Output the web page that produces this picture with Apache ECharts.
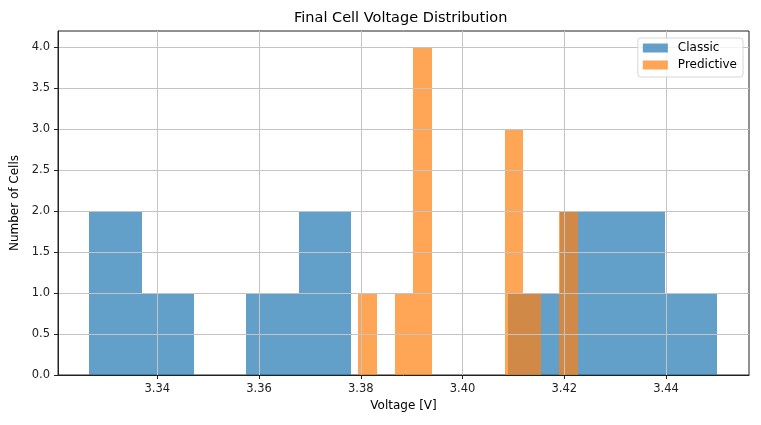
<!DOCTYPE html>
<html>
<head>
<meta charset="utf-8">
<script src="https://cdn.jsdelivr.net/npm/echarts@6/dist/echarts.min.js"></script>
<style>
html, body { margin: 0; padding: 0; background: #fff; }
#chart { width: 761px; height: 425px; }
</style>
</head>
<body>
<div id="chart"></div>
<script>
// histogram bins: left edge, bin width, 12 counts each
const classicStart = 3.32665;
const classicBinWidth = 0.010287;
const classicCounts = [2, 1, 0, 1, 2, 0, 0, 0, 1, 2, 2, 1];

const predictiveStart = 3.37955;
const predictiveBinWidth = 0.003589;
const predictiveCounts = [1, 0, 1, 4, 0, 0, 0, 0, 3, 1, 0, 2];

const xTicks = [3.34, 3.36, 3.38, 3.40, 3.42, 3.44];
const yTicks = [0, 0.5, 1, 1.5, 2, 2.5, 3, 3.5, 4];

const font = 'DejaVu Sans';

function toBins(start, width, counts) {
    return counts.map((c, i) => [start + i * width, start + (i + 1) * width, c]);
}

// snap to whole pixels so touching bins don't leave seams
function renderBar(params, api) {
    const count = api.value(2);
    if (!count) return null;
    const topLeft = api.coord([api.value(0), count]);
    const bottomRight = api.coord([api.value(1), 0]);
    const x0 = Math.round(topLeft[0]);
    const x1 = Math.round(bottomRight[0]);
    const y0 = Math.round(topLeft[1]);
    const y1 = Math.round(bottomRight[1]);
    return {
        type: 'rect',
        shape: { x: x0, y: y0, width: x1 - x0, height: y1 - y0 },
        style: api.style()
    };
}

const chart = echarts.init(document.getElementById('chart'));
chart.setOption({
    animation: false,
    textStyle: { fontFamily: font },
    title: {
        text: 'Final Cell Voltage Distribution',
        left: 294,
        top: 11,
        padding: 0,
        textStyle: { fontFamily: font, fontSize: 14.5, fontWeight: 'normal', color: '#000' }
    },
    legend: {
        z: 10,
        orient: 'vertical',
        right: 18,
        top: 38,
        padding: [4, 6, 6, 5],
        itemGap: 5,
        itemWidth: 25,
        itemHeight: 9,
        icon: 'rect',
        backgroundColor: 'rgba(255,255,255,0.8)',
        borderColor: '#d6d6d6',
        borderWidth: 1,
        borderRadius: 3,
        textStyle: { fontFamily: font, fontSize: 12, color: '#000', padding: [0, 0, 0, 5] },
        data: ['Classic', 'Predictive']
    },
    grid: {
        left: 58,
        right: 12,
        top: 31,
        bottom: 50,
        show: true,
        borderColor: '#222',
        borderWidth: 1,
        backgroundColor: 'transparent'
    },
    // axes above the bars, so grid lines show over them like the original
    xAxis: {
        z: 5,
        type: 'value',
        min: 3.3205,
        max: 3.4563,
        splitNumber: 7,
        name: 'Voltage [V]',
        nameLocation: 'middle',
        nameGap: 23,
        nameTextStyle: { fontFamily: font, fontSize: 12, color: '#000' },
        axisLine: { lineStyle: { color: '#222', width: 1 } },
        axisTick: { show: true, length: 4, lineStyle: { color: '#222' }, customValues: xTicks },
        axisLabel: {
            fontFamily: font, fontSize: 11.5, color: '#222', margin: 8,
            customValues: xTicks,
            formatter: v => v.toFixed(2)
        },
        splitLine: { show: true, lineStyle: { color: '#c4c4c4', width: 1 } }
    },
    yAxis: {
        z: 5,
        type: 'value',
        min: 0,
        max: 4.2,
        interval: 0.5,
        name: 'Number of Cells',
        nameLocation: 'middle',
        nameGap: 33,
        nameTextStyle: { fontFamily: font, fontSize: 12, color: '#000' },
        axisLine: { show: true, lineStyle: { color: '#222', width: 1 } },
        axisTick: { show: true, length: 4, lineStyle: { color: '#222' }, customValues: yTicks },
        axisLabel: {
            fontFamily: font, fontSize: 11.5, color: '#222', margin: 8,
            customValues: yTicks,
            formatter: v => v.toFixed(1)
        },
        splitLine: { show: true, lineStyle: { color: '#c4c4c4', width: 1 } }
    },
    series: [
        {
            name: 'Classic',
            type: 'custom',
            renderItem: renderBar,
            itemStyle: { color: 'rgba(31,119,180,0.7)' },
            encode: { x: [0, 1], y: 2 },
            data: toBins(classicStart, classicBinWidth, classicCounts)
        },
        {
            name: 'Predictive',
            type: 'custom',
            renderItem: renderBar,
            itemStyle: { color: 'rgba(255,127,14,0.7)' },
            encode: { x: [0, 1], y: 2 },
            data: toBins(predictiveStart, predictiveBinWidth, predictiveCounts)
        }
    ]
});
</script>
</body>
</html>
